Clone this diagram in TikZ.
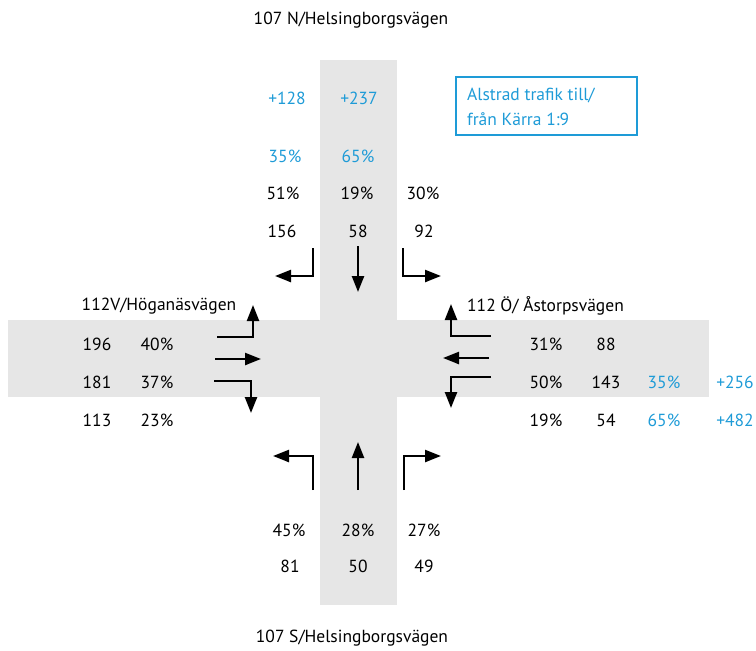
\documentclass[tikz,border=0pt]{standalone}
\usepackage{fontspec}
\setmainfont{PT Sans}
\usetikzlibrary{arrows.meta}
\definecolor{roadgray}{HTML}{E6E6E6}
\definecolor{flowblue}{HTML}{1E9BD7}
\begin{document}
\begin{tikzpicture}[x=1pt,y=-1pt,
  lbl/.style={font=\fontsize{17.5}{25}\selectfont, inner sep=0pt, anchor=center},
  blbl/.style={lbl, text=flowblue},
  turn/.style={line width=2.4pt, -{Triangle[length=16pt,width=12pt]}},
  road/.style={fill=roadgray, draw=none}]
\useasboundingbox (0,0) rectangle (756,651);
% roads
\fill[road] (320,60) rectangle (397,605);
\fill[road] (8,320) rectangle (709,397);
% info box
\node[draw=flowblue, line width=1.3pt, minimum width=181pt, minimum height=58pt, inner sep=0pt] (box) at (546.5,106) {};
\node[blbl, align=left, anchor=west] (boxtxt) at (467,107) {Alstrad trafik till/\\från Kärra 1:9};
% road names
\node[lbl] (nname) at (351,20) {107 N/Helsingborgsvägen};
\node[lbl] (sname) at (352,638) {107 S/Helsingborgsvägen};
\node[lbl] (wname) at (159,306) {112V/Höganäsvägen};
\node[lbl, anchor=west] (ename) at (467,306) {112 Ö/ Åstorpsvägen};
% north approach
\node[blbl] (n1) at (287,98) {+128};
\node[blbl] (n2) at (359,98) {+237};
\node[blbl] (n3) at (285,156) {35\%};
\node[blbl] (n4) at (358,156) {65\%};
\node[lbl] (n5) at (283,193) {51\%};
\node[lbl] (n6) at (357,193) {19\%};
\node[lbl] (n7) at (423,193) {30\%};
\node[lbl] (n8) at (282,231) {156};
\node[lbl] (n9) at (358,231) {58};
\node[lbl] (n10) at (424,231) {92};
% west approach
\node[lbl] (w1) at (97,344) {196};
\node[lbl] (w2) at (157,344) {40\%};
\node[lbl] (w3) at (97,382) {181};
\node[lbl] (w4) at (157,382) {37\%};
\node[lbl] (w5) at (97,420) {113};
\node[lbl] (w6) at (157,420) {23\%};
% east approach
\node[lbl] (e1) at (546,344) {31\%};
\node[lbl] (e2) at (606,344) {88};
\node[lbl] (e3) at (546,382) {50\%};
\node[lbl] (e4) at (606,382) {143};
\node[blbl] (e5) at (664,382) {35\%};
\node[blbl] (e6) at (735,382) {+256};
\node[lbl] (e7) at (546,420) {19\%};
\node[lbl] (e8) at (606,420) {54};
\node[blbl] (e9) at (664,420) {65\%};
\node[blbl] (e10) at (735,420) {+482};
% south approach
\node[lbl] (s1) at (289,530) {45\%};
\node[lbl] (s2) at (358,530) {28\%};
\node[lbl] (s3) at (424,530) {27\%};
\node[lbl] (s4) at (290,566) {81};
\node[lbl] (s5) at (358,566) {50};
\node[lbl] (s6) at (424,566) {49};
% turning movement arrows
\coordinate (na1) at (313,248); \coordinate (na2) at (275,276);
\coordinate (nb1) at (358,246); \coordinate (nb2) at (358,292);
\coordinate (nc1) at (403,248); \coordinate (nc2) at (441,276);
\draw[turn] (na1) |- (na2);
\draw[turn] (nb1) -- (nb2);
\draw[turn] (nc1) |- (nc2);
\coordinate (wa1) at (217,337); \coordinate (wa2) at (253,305);
\coordinate (wb1) at (215,359); \coordinate (wb2) at (261,359);
\coordinate (wc1) at (214,381); \coordinate (wc2) at (251,413);
\draw[turn] (wa1) -| (wa2);
\draw[turn] (wb1) -- (wb2);
\draw[turn] (wc1) -| (wc2);
\coordinate (ea1) at (491,336); \coordinate (ea2) at (451,304);
\coordinate (eb1) at (489,358); \coordinate (eb2) at (443,358);
\coordinate (ec1) at (491,377); \coordinate (ec2) at (451,408);
\draw[turn] (ea1) -| (ea2);
\draw[turn] (eb1) -- (eb2);
\draw[turn] (ec1) -| (ec2);
\coordinate (sa1) at (313,490); \coordinate (sa2) at (273,456);
\coordinate (sb1) at (358,490); \coordinate (sb2) at (358,442);
\coordinate (sc1) at (404,490); \coordinate (sc2) at (441,456);
\draw[turn] (sa1) |- (sa2);
\draw[turn] (sb1) -- (sb2);
\draw[turn] (sc1) |- (sc2);
\end{tikzpicture}
\end{document}
